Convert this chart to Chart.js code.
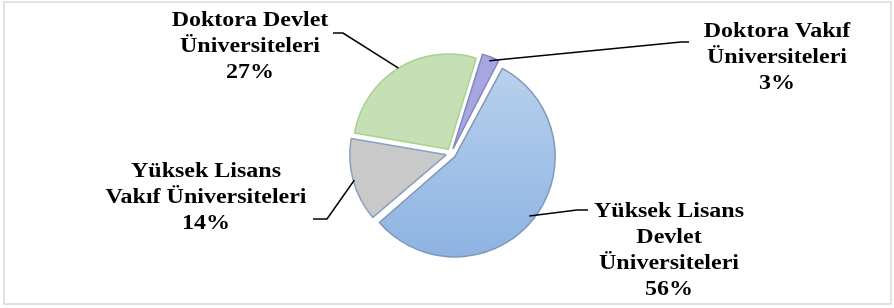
<!DOCTYPE html>
<html>
<head>
<meta charset="utf-8">
<script src="https://cdn.jsdelivr.net/npm/chart.js@4/dist/chart.umd.min.js"></script>
<style>
  body { margin: 0; background: #fff; }
  #wrap { width: 894px; height: 308px; }
  .preload { font: bold 20px "Liberation Serif"; position: absolute; left: -999px; top: 0; }
</style>
</head>
<body>
<span class="preload">Doktora Üniversiteleri</span>
<div id="wrap"><canvas id="pieChart" width="894" height="308"></canvas></div>
<script>
// Veriler (grafikten okunan yüzdeler)
const categories = [
    ['Doktora Vakıf', 'Üniversiteleri'],
    ['Yüksek Lisans', 'Devlet', 'Üniversiteleri'],
    ['Yüksek Lisans', 'Vakıf Üniversiteleri'],
    ['Doktora Devlet', 'Üniversiteleri']
];
const values = [3, 56, 14, 27];
const percentLabels = ['3%', '56%', '14%', '27%'];

const fillColors = ['#a6a6e0', null, '#c9c9c9', '#c5e0b4'];
const borderColors = ['#8585c0', '#7f98ba', '#8aa0c0', '#a9d18e'];

// Etiket yerleşimi: metin merkezi, ilk satır tabanı, kırık çizgi noktaları
const labelLayout = [
    { x: 777, y: 37, elbow: [681, 42], end: [689, 42] },
    { x: 669, y: 217, elbow: [577, 210], end: [588, 210] },
    { x: 206, y: 177, elbow: [327, 219], end: [313, 219] },
    { x: 250, y: 26, elbow: [343, 33], end: [333, 33] }
];

const FONT = 'bold 20px "Liberation Serif", "Times New Roman", serif';

// Etiketler ve kılavuz çizgileri
const labelPlugin = {
    id: 'pieLabels',
    afterDatasetsDraw(chart) {
        const ctx = chart.ctx;
        const arcs = chart.getDatasetMeta(0).data;
        ctx.save();
        arcs.forEach((arc, i) => {
            const p = arc.getProps(['x', 'y', 'startAngle', 'endAngle', 'outerRadius']);
            const off = (arc.options.offset || 0) / 4; // Chart.js desloca offset/4
            const mid = (p.startAngle + p.endAngle) / 2;
            const ax = p.x + Math.cos(mid) * (p.outerRadius + off);
            const ay = p.y + Math.sin(mid) * (p.outerRadius + off);
            const L = labelLayout[i];

            ctx.strokeStyle = '#000';
            ctx.lineWidth = 1.6;
            ctx.beginPath();
            ctx.moveTo(ax, ay);
            ctx.lineTo(L.elbow[0], L.elbow[1]);
            ctx.lineTo(L.end[0], L.end[1]);
            ctx.stroke();

            const lines = categories[i].concat([percentLabels[i]]);
            ctx.fillStyle = '#000';
            ctx.font = FONT;
            ctx.textAlign = 'center';
            ctx.textBaseline = 'alphabetic';
            lines.forEach((t, k) => {
                ctx.save();
                ctx.translate(L.x, L.y + k * 26);
                ctx.scale(1.2, 1);
                ctx.fillText(t, 0, 0);
                ctx.restore();
            });
        });

        // çerçeve
        ctx.strokeStyle = '#d9d9d9';
        ctx.lineWidth = 1.5;
        ctx.strokeRect(4, 2, 887, 302);
        ctx.restore();
    }
};

function blueGradient(context) {
    const chart = context.chart;
    const area = chart.chartArea;
    if (!area) return '#a4c0e6';
    const g = chart.ctx.createLinearGradient(0, area.top, 0, area.bottom);
    g.addColorStop(0, '#bcd3ed');
    g.addColorStop(1, '#8cb2e2');
    return g;
}

function drawChart() {
    new Chart(document.getElementById('pieChart'), {
        type: 'pie',
        data: {
            labels: categories.map(c => c.join(' ')),
            datasets: [{
                data: values,
                backgroundColor: (context) => {
                    const c = fillColors[context.dataIndex];
                    return c ? c : blueGradient(context);
                },
                borderColor: borderColors,
                borderWidth: 1.5,
                offset: 20
            }]
        },
        options: {
            responsive: false,
            animation: false,
            rotation: 17,
            layout: { padding: { left: 345, right: 337, top: 47, bottom: 48 } },
            plugins: {
                legend: { display: false },
                tooltip: { enabled: false }
            }
        },
        plugins: [labelPlugin]
    });
}

document.fonts.load(FONT, 'Üniversiteleri').then(drawChart, drawChart);
</script>
</body>
</html>
